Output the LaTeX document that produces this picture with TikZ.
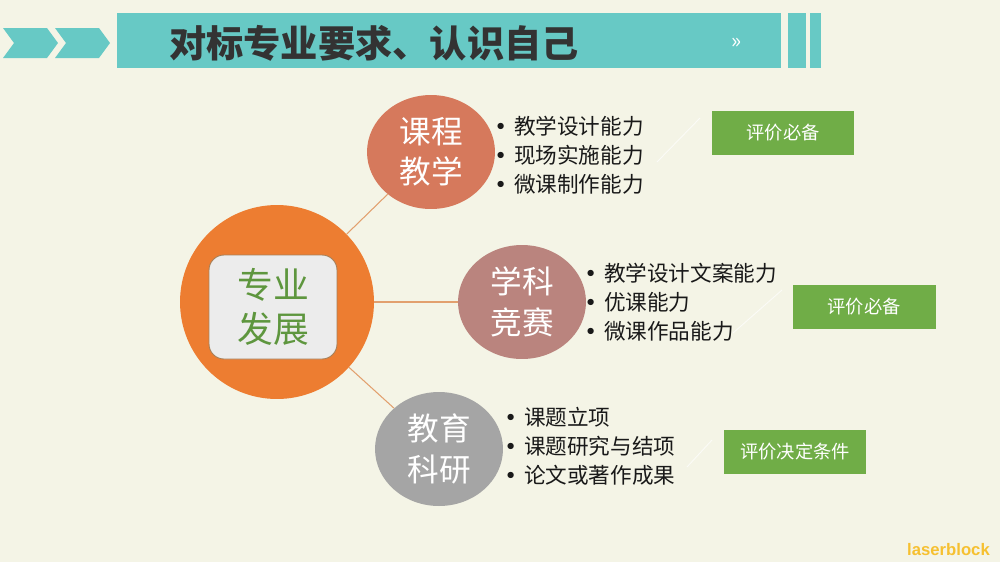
\documentclass[tikz,border=0pt]{standalone}
\usepackage{fontspec}
\setmainfont{Noto Sans CJK SC}
\newfontfamily\markfont{Liberation Sans}
\newfontfamily\dotfont{DejaVu Sans}
\definecolor{bgcream}{RGB}{244, 244, 230}
\definecolor{headteal}{RGB}{103, 201, 197}
\definecolor{coreorange}{RGB}{237, 125, 49}
\definecolor{courseclay}{RGB}{214, 121, 92}
\definecolor{contestrose}{RGB}{186, 132, 126}
\definecolor{researchgray}{RGB}{165, 165, 165}
\definecolor{evalgreen}{RGB}{112, 173, 71}
\definecolor{leafgreen}{RGB}{94, 150, 62}
\definecolor{linktan}{RGB}{226, 160, 110}
\definecolor{markgold}{RGB}{246, 192, 48}
\usetikzlibrary{
    shapes.geometric,
    positioning,
    calc
}
\newcommand{\itemdot}{{\dotfont\textbullet}\hspace{4pt}}
\tikzset{
    topic/.style={ellipse, minimum width=2.56cm, minimum height=2.28cm,
        inner sep=0pt, text=white, align=center, font=\fontsize{18}{23}\selectfont},
    items/.style={anchor=west, align=left, text=black!90, inner xsep=0pt,
        font=\fontsize{12.3}{16.6}\selectfont},
    evalbox/.style={fill=evalgreen, text=white, inner sep=0pt,
        minimum width=2.86cm, minimum height=0.88cm, font=\fontsize{10.4}{12}\selectfont},
    link/.style={linktan, line width=0.6pt},
    ghost/.style={white, line width=0.5pt, opacity=0.7}
}

\begin{document}
\begin{tikzpicture}[x=0.02cm, y=-0.02cm]
    % page background
    \fill[bgcream] (0,0) rectangle (1000,562);

    % header band with chevrons
    \foreach \xs in {3,55} {
        \fill[headteal] (\xs,28) -- (\xs+44,28) -- (\xs+55,43) -- (\xs+44,58)
            -- (\xs,58) -- (\xs+11,43) -- cycle;
    }
    \fill[headteal] (117,13) rectangle (781,68);
    \fill[headteal] (788,13) rectangle (806,68);
    \fill[headteal] (810,13) rectangle (821,68);
    \node[anchor=west, font=\fontsize{21.2}{24}\selectfont\bfseries, text=black!80] (title) at (163,43) {对标专业要求、认识自己};
    \node[text=white, font=\large] (more) at (737,43) {\guillemotright};

    % central circle
    \node[circle, fill=coreorange, minimum size=3.88cm, inner sep=0pt] (core) at (277,302) {};
    \node[draw=brown!60!gray, line width=0.5pt, fill=gray!15, rounded corners=0.3cm,
        minimum width=2.56cm, minimum height=2.08cm, align=center, text=leafgreen,
        font=\fontsize{20.4}{25}\selectfont] (corebox) at (273,307) {专业\\发展};

    % three topics
    \node[topic, fill=courseclay] (course) at (431,152) {课程\\教学};
    \node[topic, fill=contestrose] (contest) at (522,302) {学科\\竞赛};
    \node[topic, fill=researchgray] (research) at (439,449) {教育\\科研};

    \draw[link] (core) -- (course);
    \draw[link] (core) -- (contest);
    \draw[link] (core) -- (research);

    % bullet lists
    \node[items] (list1) at (494,155) {\itemdot 教学设计能力\\\itemdot 现场实施能力\\\itemdot 微课制作能力};
    \node[items] (list2) at (584,302) {\itemdot 教学设计文案能力\\\itemdot 优课能力\\\itemdot 微课作品能力};
    \node[items] (list3) at (504,446) {\itemdot 课题立项\\\itemdot 课题研究与结项\\\itemdot 论文或著作成果};

    % evaluation tags
    \node[evalbox] (eval1) at (783,133) {评价必备};
    \node[evalbox] (eval2) at (864,307) {评价必备};
    \node[evalbox] (eval3) at (795,452) {评价决定条件};

    % faint pointers
    \coordinate (tail1) at (657,162);
    \coordinate (tail2) at (733,333);
    \coordinate (tail3) at (687,467);
    \draw[ghost] (tail1) -- ++(43,-44);
    \draw[ghost] (tail2) -- ++(49,-43);
    \draw[ghost] (tail3) -- ++(25,-27);

    % watermark
    \node[anchor=east, text=markgold, font=\markfont\bfseries\fontsize{9.5}{10}\selectfont] (mark) at (996,550) {laserblock};
\end{tikzpicture}
\end{document}
